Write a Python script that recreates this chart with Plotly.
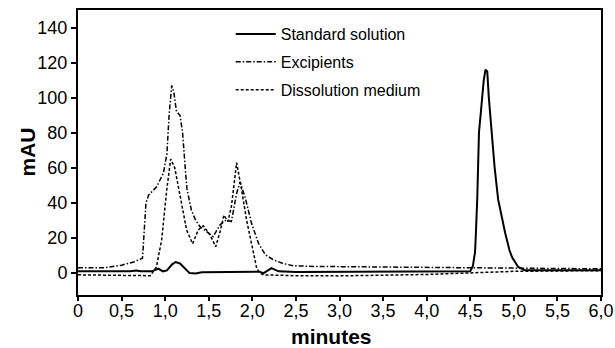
import plotly.graph_objects as go

# Standard solution
std_t = [0, 0.6, 0.67, 0.72, 0.85, 0.92, 0.975, 1.02, 1.08, 1.12, 1.17, 1.22, 1.28, 1.35, 1.42,
         2.08, 2.13, 2.22, 2.3, 2.5, 4.45, 4.50, 4.53, 4.555, 4.565, 4.58, 4.60, 4.63, 4.655,
         4.675, 4.695, 4.713, 4.744, 4.78, 4.82, 4.86, 4.90, 4.95, 4.98, 5.05, 5.12, 5.2, 6.0]
std_v = [1, 1, 1.5, 1, 1, 2.5, 1, 1.5, 5, 6.3, 5.5, 3, 0, -0.2, 0.5,
         0.8, 0, 2.8, 1, 0.6, 0.6, 1, 4, 12, 23, 42, 80, 97, 110,
         116, 115, 100, 80, 60, 42, 32, 23, 13, 9, 3.5, 1.8, 1.6, 1.6]

# Excipients
exc_t = [0, 0.3, 0.5, 0.65, 0.74, 0.78, 0.81, 0.9, 0.98, 1.02, 1.045, 1.075, 1.1, 1.13, 1.17,
         1.2, 1.23, 1.25, 1.30, 1.35, 1.40, 1.48, 1.55, 1.63, 1.70, 1.76, 1.82, 1.86, 1.92,
         1.99, 2.07, 2.15, 2.24, 2.35, 2.47, 2.7, 3.5, 4.5, 5.0, 6.0]
exc_v = [3, 3, 4.5, 6.5, 8.5, 40, 44.5, 49, 57, 68, 90, 107, 103, 92, 90,
         80, 60, 48, 36, 30, 26.5, 23.7, 20.8, 27.5, 30.3, 29.4, 45.5, 52, 42.7,
         28.5, 17, 10.4, 7.6, 5.5, 4.2, 3.8, 3.5, 3, 2.6, 2.4]

# Dissolution medium
dis_t = [0, 0.5, 0.83, 0.9, 0.96, 1.017, 1.063, 1.11, 1.17, 1.246, 1.315, 1.38, 1.437, 1.514,
         1.58, 1.63, 1.674, 1.72, 1.76, 1.82, 1.877, 1.935, 1.99, 2.05, 2.087, 2.13, 2.5, 3.0,
         4.0, 4.5, 5.0, 6.0]
dis_v = [-1, -1.5, -1.5, 3.5, 19, 47, 65, 60, 43.6, 24.6, 16.7, 24.6, 27, 21.8,
         15, 23.7, 33, 29.4, 38, 63, 47.4, 30, 17, 2.8, 0, -1, -1.5, -1.6,
         -0.8, 0.2, 1, 1.4]

x_tickvals = [0, 0.5, 1.0, 1.5, 2.0, 2.5, 3.0, 3.5, 4.0, 4.5, 5.0, 5.5, 6.0]
x_ticktext = ["0", "0,5", "1,0", "1,5", "2,0", "2,5", "3,0", "3,5", "4,0", "4,5", "5,0", "5,5", "6,0"]
y_tickvals = [0, 20, 40, 60, 80, 100, 120, 140]

x_title = "minutes"
y_title = "mAU"

font = "Liberation Sans, Arial, sans-serif"

fig = go.Figure()
fig.add_trace(go.Scatter(x=std_t, y=std_v, mode="lines", name="Standard solution", legendgroup="a",
                         line=dict(color="black", width=2)))
fig.add_trace(go.Scatter(x=exc_t, y=exc_v, mode="lines", name="Excipients", legendgroup="b",
                         line=dict(color="black", width=1.5, dash="5px,2px,1.5px,2px")))
fig.add_trace(go.Scatter(x=dis_t, y=dis_v, mode="lines", name="Dissolution medium", legendgroup="c",
                         line=dict(color="black", width=1.5, dash="3px,2px")))

fig.update_layout(
    width=615, height=348,
    margin=dict(l=78, r=14, t=10, b=53),
    paper_bgcolor="white", plot_bgcolor="white",
    font=dict(family=font, color="black", size=16),
    showlegend=True,
    legend=dict(x=0.292, y=0.975, xanchor="left", yanchor="top",
                bgcolor="rgba(0,0,0,0)", font=dict(size=16), tracegroupgap=4,
                itemwidth=40),
    xaxis=dict(range=[0, 6.0], tickvals=x_tickvals, ticktext=x_ticktext, automargin=False,
               showgrid=False, zeroline=False, showline=True, linecolor="black", linewidth=2,
               mirror=True, ticks="outside", ticklen=4, tickwidth=1.5, tickcolor="black",
               ticklabelstandoff=-6, tickfont=dict(size=18)),
    yaxis=dict(range=[-12.5, 150], tickvals=y_tickvals, automargin=False,
               showgrid=False, zeroline=False, showline=True, linecolor="black", linewidth=2,
               mirror=True, ticks="outside", ticklen=5, tickwidth=1.5, tickcolor="black",
               tickfont=dict(size=18)),
    annotations=[
        dict(text="<b>" + x_title + "</b>", xref="paper", yref="paper", x=0.484, y=-0.146,
             xanchor="center", yanchor="middle", showarrow=False, font=dict(size=21)),
        dict(text="<b>" + y_title + "</b>", xref="paper", yref="paper", x=-0.0975, y=0.5,
             xanchor="center", yanchor="middle", showarrow=False, textangle=-90,
             font=dict(size=21)),
    ],
)

fig.write_html("out.html")
